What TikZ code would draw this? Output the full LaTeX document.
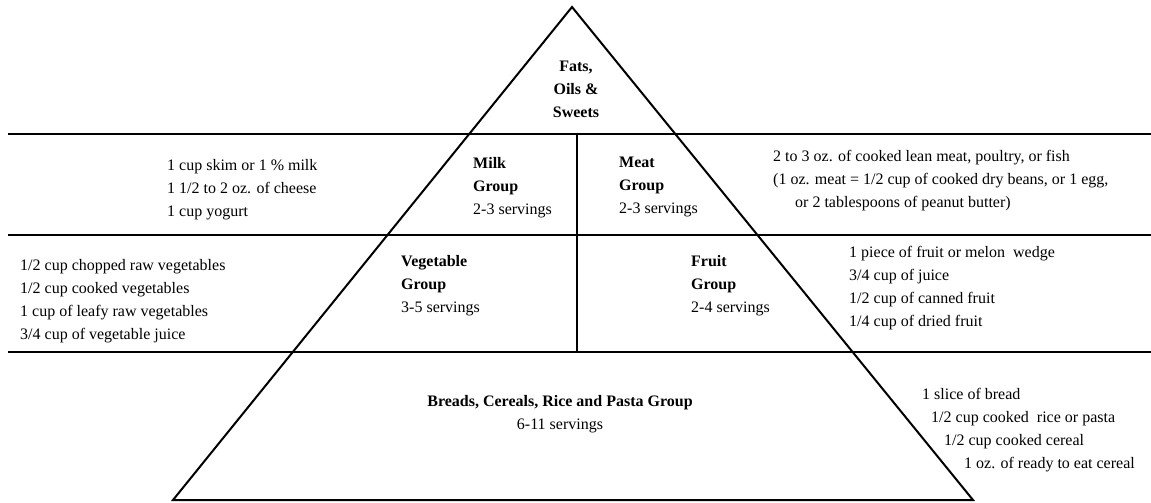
\documentclass[tikz,border=0pt]{standalone}
\usepackage{fontspec}
\setmainfont{Liberation Serif}
\usetikzlibrary{positioning, calc}

\begin{document}
\begin{tikzpicture}[
    x=1pt, y=-1pt,
    rule/.style={draw=black, line width=2.4pt},
    edge/.style={draw=black, line width=2pt, line join=miter},
    divider/.style={draw=black, line width=1.5pt},
    list text/.style={anchor=north west, inner sep=0pt, align=left, font=\fontsize{16}{23}\selectfont},
    group text/.style={list text},
    title text/.style={anchor=north, inner sep=0pt, align=center, font=\fontsize{16}{23}\selectfont}
]
\useasboundingbox (0,0) rectangle (1151,503);

% --- Pyramid ---
\coordinate (top) at (572,7);
\coordinate (bl) at (173,500);
\coordinate (br) at (973,500);
\draw[edge] (top) -- (bl) -- (br) -- cycle;

% Band rules across the page
\foreach \y [count=\i] in {134,235,352} {
    \coordinate (r\i-w) at (8,\y);
    \coordinate (r\i-e) at (1151,\y);
    \draw[rule] (r\i-w) -- (r\i-e);
}

% Middle divider
\coordinate (mid-t) at (577,134);
\coordinate (mid-b) at (577,352);
\draw[divider] (mid-t) -- (mid-b);

% --- Group names ---
\node[title text, font=\fontsize{16}{23}\selectfont\bfseries] (fats) at (576,61) {Fats,\\Oils \&\\Sweets};
\node[group text] (milk) at (473,157) {\textbf{Milk}\\\textbf{Group}\\2-3 servings};
\node[group text] (meat) at (619,157) {\textbf{Meat}\\\textbf{Group}\\2-3 servings};
\node[group text] (veg) at (401,255) {\textbf{Vegetable}\\\textbf{Group}\\3-5 servings};
\node[group text] (fruit) at (691,255) {\textbf{Fruit}\\\textbf{Group}\\2-4 servings};
\node[title text] (bread) at (560,395) {\textbf{Breads, Cereals, Rice and Pasta Group}\\6-11 servings};

% --- Serving sizes ---
\node[list text] (milk-list) at (167,159) {1 cup skim or 1 \% milk\\1 1/2 to 2 oz. of cheese\\1 cup yogurt};
\node[list text] (meat-list) at (773,150) {2 to 3 oz. of cooked lean meat, poultry, or fish\\(1 oz. meat = 1/2 cup of cooked dry beans, or 1 egg,\\\hspace*{22pt}or 2 tablespoons of peanut butter)};
\node[list text] (veg-list) at (20,259) {1/2 cup chopped raw vegetables\\1/2 cup cooked vegetables\\1 cup of leafy raw vegetables\\3/4 cup of vegetable juice};
\node[list text] (fruit-list) at (849,246) {1 piece of fruit or melon\ \ wedge\\3/4 cup of juice\\1/2 cup of canned fruit\\1/4 cup of dried fruit};
\node[list text] (bread-list) at (922,388) {1 slice of bread\\\hspace*{9pt}1/2 cup cooked\ \ rice or pasta\\\hspace*{22pt}1/2 cup cooked cereal\\\hspace*{42pt}1 oz. of ready to eat cereal};

\end{tikzpicture}
\end{document}
